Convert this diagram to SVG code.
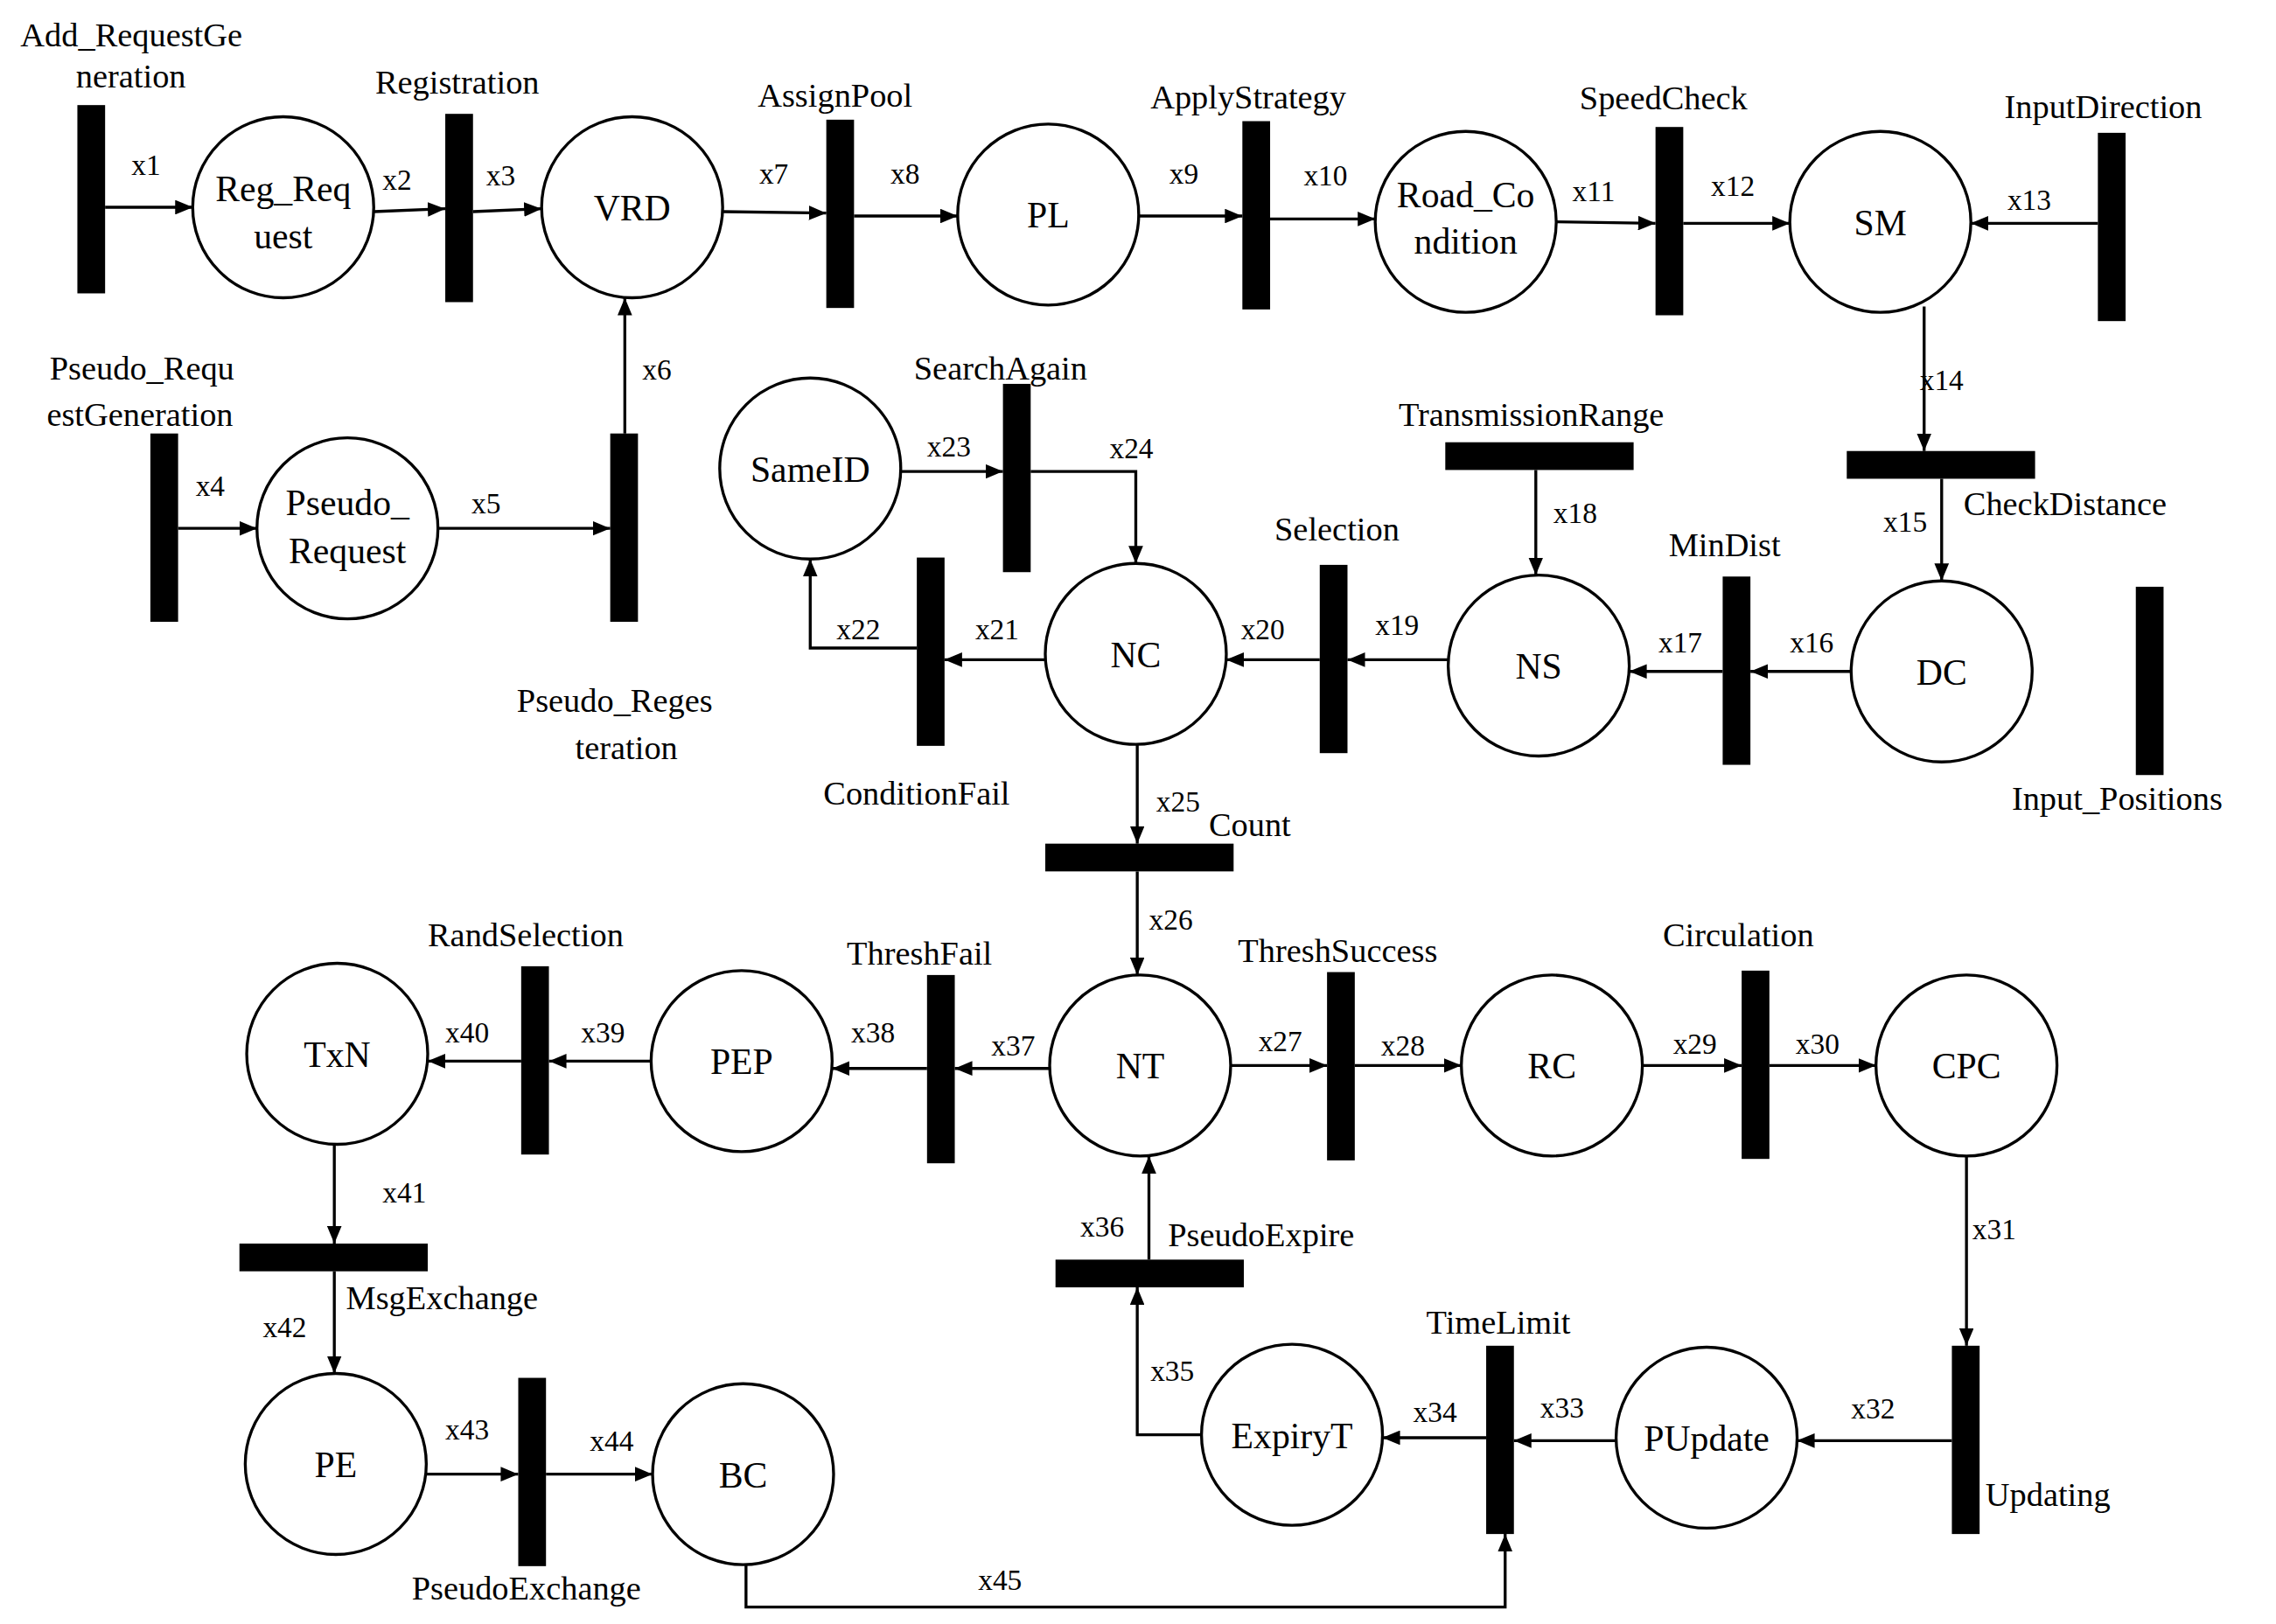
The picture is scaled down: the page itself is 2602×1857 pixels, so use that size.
<svg xmlns="http://www.w3.org/2000/svg" width="2602" height="1857" viewBox="0 0 2602 1857">
<style>
.p{fill:#fff;stroke:#000;stroke-width:2}
.b{fill:#000}
.c{fill:none;stroke:#000;stroke-width:2;marker-end:url(#a)}
text{font-family:"Liberation Serif","Times New Roman",serif;fill:#000}
.n{font-size:25px;text-anchor:middle}
.l{font-size:23px}
.x{font-size:20px}
</style>
<defs><marker id="a" viewBox="0 0 12 10" refX="12" refY="5" markerWidth="6" markerHeight="5" orient="auto"><path d="M0,0L12,5L0,10z"/></marker></defs>
<rect width="2602" height="1857" fill="#fff"/>
<g transform="scale(1.669)">
<g id="places">
<g id="Reg_Request"><circle class="p" cx="194" cy="142" r="62"/><text class="n" x="194" y="138">Reg_Req</text><text class="n" x="194" y="170">uest</text></g>
<g id="VRD"><circle class="p" cx="433" cy="142" r="62"/><text class="n" x="433" y="151">VRD</text></g>
<g id="PL"><circle class="p" cx="718" cy="147" r="62"/><text class="n" x="718" y="156">PL</text></g>
<g id="Road_Condition"><circle class="p" cx="1004" cy="152" r="62"/><text class="n" x="1004" y="142">Road_Co</text><text class="n" x="1004" y="174">ndition</text></g>
<g id="SM"><circle class="p" cx="1288" cy="152" r="62"/><text class="n" x="1288" y="161">SM</text></g>
<g id="Pseudo_Request"><circle class="p" cx="238" cy="362" r="62"/><text class="n" x="238" y="353">Pseudo_</text><text class="n" x="238" y="386">Request</text></g>
<g id="SameID"><circle class="p" cx="555" cy="321" r="62"/><text class="n" x="555" y="330">SameID</text></g>
<g id="NC"><circle class="p" cx="778" cy="448" r="62"/><text class="n" x="778" y="457">NC</text></g>
<g id="NS"><circle class="p" cx="1054" cy="456" r="62"/><text class="n" x="1054" y="465">NS</text></g>
<g id="DC"><circle class="p" cx="1330" cy="460" r="62"/><text class="n" x="1330" y="469">DC</text></g>
<g id="TxN"><circle class="p" cx="231" cy="722" r="62"/><text class="n" x="231" y="731">TxN</text></g>
<g id="PEP"><circle class="p" cx="508" cy="727" r="62"/><text class="n" x="508" y="736">PEP</text></g>
<g id="NT"><circle class="p" cx="781" cy="730" r="62"/><text class="n" x="781" y="739">NT</text></g>
<g id="RC"><circle class="p" cx="1063" cy="730" r="62"/><text class="n" x="1063" y="739">RC</text></g>
<g id="CPC"><circle class="p" cx="1347" cy="730" r="62"/><text class="n" x="1347" y="739">CPC</text></g>
<g id="PE"><circle class="p" cx="230" cy="1003" r="62"/><text class="n" x="230" y="1012">PE</text></g>
<g id="BC"><circle class="p" cx="509" cy="1010" r="62"/><text class="n" x="509" y="1019">BC</text></g>
<g id="ExpiryT"><circle class="p" cx="885" cy="983" r="62"/><text class="n" x="885" y="992">ExpiryT</text></g>
<g id="PUpdate"><circle class="p" cx="1169" cy="985" r="62"/><text class="n" x="1169" y="994">PUpdate</text></g>
</g>
<g id="transitions">
<g id="Add_RequestGeneration"><rect class="b" x="53" y="72" width="19" height="129"/><text class="l" x="14" y="32">Add_RequestGe</text><text class="l" x="52" y="60">neration</text></g>
<g id="Registration"><rect class="b" x="305" y="78" width="19" height="129"/><text class="l" x="257" y="64">Registration</text></g>
<g id="AssignPool"><rect class="b" x="566" y="82" width="19" height="129"/><text class="l" x="519" y="73">AssignPool</text></g>
<g id="ApplyStrategy"><rect class="b" x="851" y="83" width="19" height="129"/><text class="l" x="788" y="74">ApplyStrategy</text></g>
<g id="SpeedCheck"><rect class="b" x="1134" y="87" width="19" height="129"/><text class="l" x="1082" y="75">SpeedCheck</text></g>
<g id="InputDirection"><rect class="b" x="1437" y="91" width="19" height="129"/><text class="l" x="1373" y="81">InputDirection</text></g>
<g id="Pseudo_RequestGeneration"><rect class="b" x="103" y="297" width="19" height="129"/><text class="l" x="34" y="260">Pseudo_Requ</text><text class="l" x="32" y="292">estGeneration</text></g>
<g id="Pseudo_Regesteration"><rect class="b" x="418" y="297" width="19" height="129"/><text class="l" x="354" y="488">Pseudo_Reges</text><text class="l" x="394" y="520">teration</text></g>
<g id="SearchAgain"><rect class="b" x="687" y="263" width="19" height="129"/><text class="l" x="626" y="260">SearchAgain</text></g>
<g id="ConditionFail"><rect class="b" x="628" y="382" width="19" height="129"/><text class="l" x="564" y="551">ConditionFail</text></g>
<g id="Selection"><rect class="b" x="904" y="387" width="19" height="129"/><text class="l" x="873" y="370">Selection</text></g>
<g id="MinDist"><rect class="b" x="1180" y="395" width="19" height="129"/><text class="l" x="1143" y="381">MinDist</text></g>
<g id="Input_Positions"><rect class="b" x="1463" y="402" width="19" height="129"/><text class="l" x="1378" y="555">Input_Positions</text></g>
<g id="CheckDistance"><rect class="b" x="1265" y="309" width="129" height="19"/><text class="l" x="1345" y="353">CheckDistance</text></g>
<g id="TransmissionRange"><rect class="b" x="990" y="303" width="129" height="19"/><text class="l" x="958" y="292">TransmissionRange</text></g>
<g id="Count"><rect class="b" x="716" y="578" width="129" height="19"/><text class="l" x="828" y="573">Count</text></g>
<g id="RandSelection"><rect class="b" x="357" y="662" width="19" height="129"/><text class="l" x="293" y="648">RandSelection</text></g>
<g id="ThreshFail"><rect class="b" x="635" y="668" width="19" height="129"/><text class="l" x="580" y="661">ThreshFail</text></g>
<g id="ThreshSuccess"><rect class="b" x="909" y="666" width="19" height="129"/><text class="l" x="848" y="659">ThreshSuccess</text></g>
<g id="Circulation"><rect class="b" x="1193" y="665" width="19" height="129"/><text class="l" x="1139" y="648">Circulation</text></g>
<g id="PseudoExpire"><rect class="b" x="723" y="863" width="129" height="19"/><text class="l" x="800" y="854">PseudoExpire</text></g>
<g id="MsgExchange"><rect class="b" x="164" y="852" width="129" height="19"/><text class="l" x="237" y="897">MsgExchange</text></g>
<g id="Updating"><rect class="b" x="1337" y="922" width="19" height="129"/><text class="l" x="1360" y="1032">Updating</text></g>
<g id="TimeLimit"><rect class="b" x="1018" y="922" width="19" height="129"/><text class="l" x="977" y="914">TimeLimit</text></g>
<g id="PseudoExchange"><rect class="b" x="355" y="944" width="19" height="129"/><text class="l" x="282" y="1096">PseudoExchange</text></g>
</g>
<g id="connectors">
<path class="c" d="M72,142H132"/><text class="x" x="90" y="120">x1</text>
<path class="c" d="M256,145L305,143"/><text class="x" x="262" y="130">x2</text>
<path class="c" d="M324,145L371,143"/><text class="x" x="333" y="127">x3</text>
<path class="c" d="M122,362H176"/><text class="x" x="134" y="340">x4</text>
<path class="c" d="M300,362H418"/><text class="x" x="323" y="352">x5</text>
<path class="c" d="M428,297V204"/><text class="x" x="440" y="260">x6</text>
<path class="c" d="M495,145L566,146"/><text class="x" x="520" y="126">x7</text>
<path class="c" d="M585,148H656"/><text class="x" x="610" y="126">x8</text>
<path class="c" d="M780,148H851"/><text class="x" x="801" y="126">x9</text>
<path class="c" d="M870,150H942"/><text class="x" x="893" y="127">x10</text>
<path class="c" d="M1066,152L1134,153"/><text class="x" x="1077" y="138">x11</text>
<path class="c" d="M1153,153H1226"/><text class="x" x="1172" y="134">x12</text>
<path class="c" d="M1437,153H1350"/><text class="x" x="1375" y="144">x13</text>
<path class="c" d="M1318,210V309"/><text class="x" x="1315" y="267">x14</text>
<path class="c" d="M1330,328V398"/><text class="x" x="1290" y="364">x15</text>
<path class="c" d="M1268,460H1199"/><text class="x" x="1226" y="447">x16</text>
<path class="c" d="M1180,460H1116"/><text class="x" x="1136" y="447">x17</text>
<path class="c" d="M1052,322V394"/><text class="x" x="1064" y="358">x18</text>
<path class="c" d="M992,452H923"/><text class="x" x="942" y="435">x19</text>
<path class="c" d="M904,452H840"/><text class="x" x="850" y="438">x20</text>
<path class="c" d="M716,452H647"/><text class="x" x="668" y="438">x21</text>
<path class="c" d="M628,444H555V383"/><text class="x" x="573" y="438">x22</text>
<path class="c" d="M617,323H687"/><text class="x" x="635" y="313">x23</text>
<path class="c" d="M706,323H778V386"/><text class="x" x="760" y="314">x24</text>
<path class="c" d="M779,510V578"/><text class="x" x="792" y="556">x25</text>
<path class="c" d="M779,597V668"/><text class="x" x="787" y="637">x26</text>
<path class="c" d="M843,730H909"/><text class="x" x="862" y="720">x27</text>
<path class="c" d="M928,730H1001"/><text class="x" x="946" y="723">x28</text>
<path class="c" d="M1125,730H1193"/><text class="x" x="1146" y="722">x29</text>
<path class="c" d="M1212,730H1285"/><text class="x" x="1230" y="722">x30</text>
<path class="c" d="M1347,792V922"/><text class="x" x="1351" y="849">x31</text>
<path class="c" d="M1337,987H1231"/><text class="x" x="1268" y="972">x32</text>
<path class="c" d="M1107,987H1037"/><text class="x" x="1055" y="971">x33</text>
<path class="c" d="M1018,985H947"/><text class="x" x="968" y="974">x34</text>
<path class="c" d="M823,983H779V882"/><text class="x" x="788" y="946">x35</text>
<path class="c" d="M787,863V792"/><text class="x" x="740" y="847">x36</text>
<path class="c" d="M719,732H654"/><text class="x" x="679" y="723">x37</text>
<path class="c" d="M635,732H570"/><text class="x" x="583" y="714">x38</text>
<path class="c" d="M446,727H376"/><text class="x" x="398" y="714">x39</text>
<path class="c" d="M357,727H293"/><text class="x" x="305" y="714">x40</text>
<path class="c" d="M229,784V852"/><text class="x" x="262" y="824">x41</text>
<path class="c" d="M229,871V941"/><text class="x" x="180" y="916">x42</text>
<path class="c" d="M292,1010H355"/><text class="x" x="305" y="986">x43</text>
<path class="c" d="M374,1010H447"/><text class="x" x="404" y="994">x44</text>
<path class="c" d="M511,1072V1101H1031V1051"/><text class="x" x="670" y="1089">x45</text>
</g>
</g>
</svg>
